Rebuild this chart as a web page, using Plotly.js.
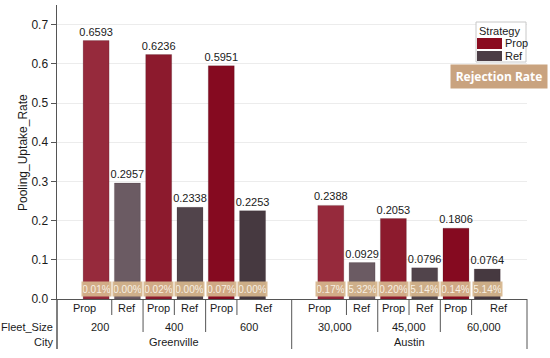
<!DOCTYPE html>
<html>
<head>
<meta charset="utf-8">
<script src="https://cdn.plot.ly/plotly-3.0.1.min.js"></script>
<style>html,body{margin:0;padding:0;background:#fff;}#chart{width:550px;height:358px;}</style>
</head>
<body>
<div id="chart"></div>
<script>
// ---- data ----
const cities = ['Greenville', 'Austin'];
const fleetSizes = [['200', '400', '600'], ['30,000', '45,000', '60,000']];
const strategies = ['Prop', 'Ref'];
const propUptake = [0.6593, 0.6236, 0.5951, 0.2388, 0.2053, 0.1806];
const refUptake = [0.2957, 0.2338, 0.2253, 0.0929, 0.0796, 0.0764];
const propReject = ['0.01%', '0.02%', '0.07%', '0.17%', '0.20%', '0.14%'];
const refReject = ['0.00%', '0.00%', '0.00%', '5.32%', '5.14%', '5.14%'];

// ---- styling ----
const propColors = ['#962a3c', '#8c1a2d', '#850a20'];
const refColors = ['#6b5b63', '#51444b', '#463940'];
const legendProp = '#8a0b1f', legendRef = '#4b3d45';
const FONT = 'Liberation Sans, Arial, sans-serif';
const cityGap = 1.5;
const M = {l: 57, r: 23, t: 5, b: 59};
const W = 550, H = 358;
const PW = W - M.l - M.r, PH = H - M.t - M.b;
const px2x = p => (p - M.l) / PW;
const py2y = p => (H - M.b - p) / PH;

// slot positions
const slots = [];
cities.forEach((c, ci) => {
  fleetSizes[ci].forEach((f, fi) => {
    strategies.forEach((s, si) => {
      const idx = ci * 3 + fi;
      slots.push({
        pos: ci * (6 + cityGap) + fi * 2 + si,
        ci, fi, si,
        value: si === 0 ? propUptake[idx] : refUptake[idx],
        reject: si === 0 ? propReject[idx] : refReject[idx]
      });
    });
  });
});
const xMin = slots[0].pos - 1.25;
const xMax = slots[slots.length - 1].pos + 1.27;

const traces = strategies.map((s, si) => {
  const ss = slots.filter(d => d.si === si);
  return {
    type: 'bar', name: s,
    x: ss.map(d => d.pos),
    y: ss.map(d => d.value),
    width: 0.83,
    text: ss.map(d => d.value.toFixed(4)),
    textposition: 'outside',
    constraintext: 'none',
    textfont: {family: FONT, size: 11, color: '#1a1a1a'},
    cliponaxis: false,
    marker: {color: ss.map(d => (si === 0 ? propColors : refColors)[d.fi]),
             line: {width: 0.5, color: 'rgba(40,20,25,0.35)'}},
    hoverinfo: 'skip', showlegend: false
  };
});

const shapes = [];
const annotations = [];
const LC = '#555';
const lab = {family: FONT, size: 11, color: '#1a1a1a'};

// separators and cells
for (let i = 0; i < slots.length; i++) {
  const left = i === 0 ? xMin : (slots[i - 1].pos + slots[i].pos) / 2;
  const right = i === slots.length - 1 ? xMax : (slots[i].pos + slots[i + 1].pos) / 2;
  slots[i].left = left; slots[i].right = right;
  if (i > 0) {
    const a = slots[i - 1], b = slots[i];
    let depth;
    if (a.ci !== b.ci) depth = py2y(349);
    else if (a.fi !== b.fi) depth = py2y(332);
    else depth = py2y(315);
    shapes.push({type: 'line', xref: 'x', yref: 'paper', x0: left, x1: left, y0: 0, y1: depth,
                 line: {color: LC, width: 1}});
  }
}
// outer lines
shapes.push({type: 'line', xref: 'paper', yref: 'paper', x0: 0, x1: 0, y0: 0, y1: py2y(349), line: {color: LC, width: 1.5}});
shapes.push({type: 'line', xref: 'paper', yref: 'paper', x0: 1, x1: 1, y0: 0, y1: py2y(349), line: {color: LC, width: 1}});

// strategy labels and rejection badges
slots.forEach(d => {
  annotations.push({xref: 'x', yref: 'paper', x: (d.left + d.right) / 2, y: py2y(308),
    text: strategies[d.si], showarrow: false, font: lab, xanchor: 'center', yanchor: 'middle'});
  annotations.push({xref: 'x', yref: 'y', x: d.pos, y: 0.0255, text: d.reject, showarrow: false,
    font: {family: FONT, size: 10, color: '#f7efe3'}, bgcolor: 'rgba(214,182,141,0.93)',
    width: 27, height: 12, borderpad: 1, xanchor: 'center', yanchor: 'middle'});
});
// fleet and city labels
cities.forEach((c, ci) => {
  fleetSizes[ci].forEach((f, fi) => {
    const g = slots.filter(d => d.ci === ci && d.fi === fi);
    const cx = (g[0].left + g[g.length - 1].right) / 2;
    annotations.push({xref: 'x', yref: 'paper', x: cx, y: py2y(327), text: f, showarrow: false,
      font: lab, xanchor: 'center', yanchor: 'middle'});
  });
  const g = slots.filter(d => d.ci === ci);
  annotations.push({xref: 'x', yref: 'paper', x: (g[0].left + g[g.length - 1].right) / 2, y: py2y(342),
    text: c, showarrow: false, font: lab, xanchor: 'center', yanchor: 'middle'});
});
// row headers
annotations.push({xref: 'paper', yref: 'paper', x: px2x(55), y: py2y(327), text: 'Fleet_Size', showarrow: false, font: lab, xanchor: 'right', yanchor: 'middle'});
annotations.push({xref: 'paper', yref: 'paper', x: px2x(55), y: py2y(342), text: 'City', showarrow: false, font: lab, xanchor: 'right', yanchor: 'middle'});
// y title
annotations.push({xref: 'paper', yref: 'paper', x: px2x(23), y: py2y(153), text: 'Pooling_Uptake_Rate', textangle: -90,
  showarrow: false, font: {family: FONT, size: 12, color: '#1a1a1a'}, xanchor: 'center', yanchor: 'middle'});

// legend (manual)
shapes.push({type: 'rect', xref: 'paper', yref: 'paper', x0: px2x(476), x1: px2x(526), y0: py2y(22), y1: py2y(62),
  line: {color: '#c8c8c8', width: 1}, fillcolor: '#fff'});
annotations.push({xref: 'paper', yref: 'paper', x: px2x(477), y: py2y(31), text: 'Strategy', showarrow: false,
  font: lab, xanchor: 'left', yanchor: 'middle'});
[[legendProp, 'Prop', 38, 49], [legendRef, 'Ref', 51, 61]].forEach(([col, t, y0, y1]) => {
  shapes.push({type: 'rect', xref: 'paper', yref: 'paper', x0: px2x(477), x1: px2x(502), y0: py2y(y0), y1: py2y(y1),
    line: {width: 0}, fillcolor: col});
  annotations.push({xref: 'paper', yref: 'paper', x: px2x(503), y: py2y((y0 + y1) / 2), text: t, showarrow: false,
    font: lab, xanchor: 'left', yanchor: 'middle'});
});
// Rejection Rate badge
annotations.push({xref: 'paper', yref: 'paper', x: px2x(499), y: py2y(76.5), text: '<b>Rejection Rate</b>', showarrow: false,
  font: {family: 'Open Sans, sans-serif', size: 12, color: '#ffffff'}, bgcolor: '#c9a37f',
  width: 92, height: 19, borderpad: 2, xanchor: 'center', yanchor: 'middle'});

const layout = {
  width: W, height: H,
  margin: M,
  paper_bgcolor: '#fff', plot_bgcolor: '#fff',
  barmode: 'overlay',
  showlegend: false,
  font: {family: FONT, size: 12, color: '#1a1a1a'},
  xaxis: {range: [xMin, xMax], showticklabels: false, ticks: '', showgrid: false, zeroline: false,
          showline: true, linecolor: LC, linewidth: 1, fixedrange: true},
  yaxis: {range: [0, 0.75], dtick: 0.1, tick0: 0, tickformat: '.1f', ticks: 'outside', ticklen: 5,
          tickcolor: LC, showline: true, linecolor: LC, linewidth: 1.5, gridcolor: '#ececec',
          zeroline: false, tickfont: {family: FONT, size: 12, color: '#1a1a1a'}, fixedrange: true},
  shapes, annotations
};
Plotly.newPlot('chart', traces, layout, {displayModeBar: false, staticPlot: true});
</script>
</body>
</html>
